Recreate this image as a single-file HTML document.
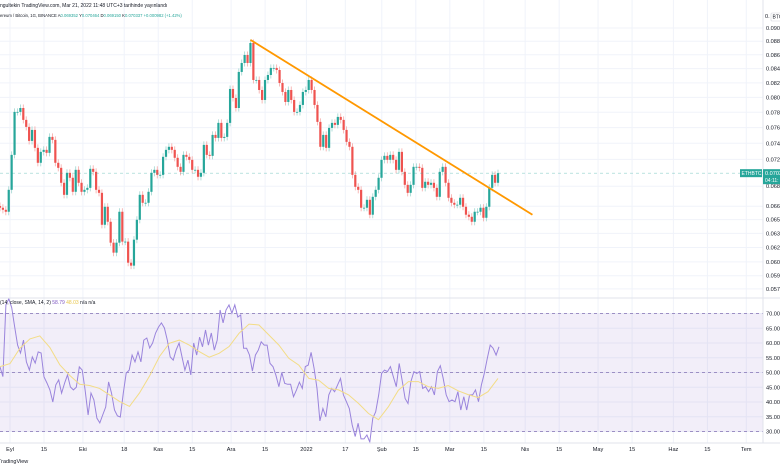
<!DOCTYPE html>
<html><head><meta charset="utf-8">
<style>
body{margin:0;background:#fff;width:780px;height:470px;overflow:hidden;font-family:"Liberation Sans",sans-serif;}
svg{display:block}
text{font-family:"Liberation Sans",sans-serif;}
</style></head>
<body>
<svg id="chart" width="780" height="470" viewBox="0 0 780 470" xmlns="http://www.w3.org/2000/svg">
<g id="grid"></g>
<rect id="band" x="0" y="0" width="763" height="0" fill="#7e57c2" fill-opacity="0.1"/>
<g id="rsiLines"></g>
<g id="candles"></g>
<g id="overlay"></g>
<g id="axes"></g>
<text x="0" y="7" font-size="5" fill="#131722">ngultekin TradingView.com, Mar 21, 2022 11:48 UTC+3 tarihinde yayınlandı</text>
<text x="0" y="17" font-size="4.2" fill="#131722">ereum / Bitcoin, 1G, BINANCE  A<tspan fill="#26a69a">0.069352</tspan> Y<tspan fill="#26a69a">0.070464</tspan> D<tspan fill="#26a69a">0.069150</tspan> K<tspan fill="#26a69a">0.070337</tspan> <tspan fill="#26a69a">+0.000982 (+1.42%)</tspan></text>
<text x="0" y="304" font-size="5" fill="#131722">(14, close, SMA, 14, 2)  <tspan fill="#7e57c2">58.79</tspan>  <tspan fill="#e8c64a">48.03</tspan>  n/a  n/a</text>
<text x="-2" y="463" font-size="5.5" fill="#131722">TradingView</text>
</svg>
<script>
const closes=[0.06633,0.06610,0.06588,0.06838,0.07256,0.07805,0.07805,0.07857,0.07700,0.07609,0.07430,0.07570,0.07343,0.07159,0.07293,0.07318,0.07281,0.07481,0.07443,0.07159,0.07098,0.06920,0.06780,0.07038,0.06979,0.06815,0.07074,0.06920,0.06815,0.06838,0.06861,0.07086,0.07050,0.06838,0.06803,0.06444,0.06644,0.06477,0.06251,0.06146,0.06251,0.06588,0.06262,0.06262,0.06042,0.06012,0.06283,0.06499,0.06780,0.06689,0.06689,0.06815,0.07038,0.07074,0.07014,0.07014,0.07232,0.07318,0.07356,0.07318,0.07220,0.07110,0.07050,0.07256,0.07232,0.07195,0.07074,0.07074,0.06991,0.07038,0.07380,0.07256,0.07244,0.07506,0.07468,0.07661,0.07468,0.07481,0.07661,0.08115,0.07992,0.07857,0.08353,0.08481,0.08597,0.08481,0.08774,0.08240,0.08240,0.08101,0.07965,0.08240,0.08310,0.08410,0.08410,0.08381,0.08198,0.08074,0.07938,0.08101,0.07965,0.07805,0.07805,0.07898,0.08074,0.08101,0.08240,0.08101,0.07898,0.07674,0.07356,0.07506,0.07343,0.07596,0.07661,0.07635,0.07739,0.07700,0.07570,0.07418,0.07356,0.07014,0.06873,0.06838,0.06633,0.06633,0.06723,0.06555,0.06757,0.06838,0.06979,0.07195,0.07244,0.07195,0.07256,0.07195,0.07074,0.07293,0.07050,0.06896,0.06803,0.06896,0.07110,0.07110,0.07098,0.06861,0.06932,0.06896,0.06920,0.06861,0.06757,0.07050,0.07110,0.06920,0.06746,0.06689,0.06667,0.06667,0.06746,0.06644,0.06555,0.06532,0.06477,0.06588,0.06588,0.06633,0.06521,0.06644,0.06861,0.07014,0.06920,0.07034];
const rsi=[51.9,48.6,72.9,75,72,65.4,59.3,56.6,61,53.6,50.8,55.3,53.2,57,56.6,48.5,46.4,44.1,40,45.8,47.5,43,46.4,49.2,45.1,44.1,45,51.9,50.8,44.1,35.6,43,40.7,34.5,32.9,35.6,38.3,46.8,43,37.3,35.3,34.9,43,49.8,50.8,55.9,53.6,57,53.6,61,61.7,58.3,60,63.4,65.4,66.8,65.1,61,55.3,54.2,57.6,60,55.3,50.8,54.2,49.2,60,55.9,62,58.7,64.4,59.3,63.4,57.6,61,71.2,66.8,71.2,72.9,70.1,72.9,68.8,69.5,58.2,58.2,55.9,50.5,55.9,57.6,60.4,59.3,59.3,53.1,52,49.1,45.2,50,46.3,46,46,41.8,44.1,46.7,44.6,52,52.5,56.8,51.4,44.6,33.6,37.8,35,42.4,44.6,43.5,45.8,48,42.4,40.1,37.8,32.2,28.3,32.8,27.5,27.5,28.8,26.4,34.5,36.7,42.4,49.7,50.8,50.3,52,48.6,45.2,53.1,47.4,41.2,39.5,46.9,50.3,49.7,50.3,44.6,45.2,43.5,45.2,42.4,50.3,52.3,48,42.4,40.1,40.7,40.1,43.5,37.3,41.8,37.3,42.4,42.4,44.1,40.1,45.8,49.7,54.8,59.3,58.2,55.9,58.7];
const rsiSma=[52,53,58.2,61.4,62.4,58.5,52.6,49,46,45.6,44.6,42.4,40.2,38.5,43,48.7,55.4,59.9,61,59.3,57.1,55.2,56.5,58.8,63.3,66.4,66.1,62.7,59.3,54.8,52.5,48,47.4,44.6,44.1,42.4,39.5,36.1,34,38.4,44,46.9,46.9,45.2,44.6,45.6,43.8,42.5,41.5,43.5,48];
const priceTicks=[0.0900,0.0880,0.0860,0.0840,0.0820,0.0800,0.0780,0.0760,0.0740,0.0720,0.0688,0.0665,0.0650,0.0635,0.0620,0.0605,0.0591,0.0578];
const rsiTicks=[70,65,60,55,50,45,40,35,30];
const dateLabels=["Eyl","15","Eki","18","Kas","15","Ara","15","2022","17","Şub","15","Mar","15","Nis","15","May","15","Haz","15","Tem"];
const dateDays=[0,14,30,47,61,75,91,105,122,138,153,167,181,195,212,226,242,256,273,287,303];
const trend={startPrice:0.0882,endPrice:0.06555,endDayOffset:14};
const lastPrice=0.07034;

const NS="http://www.w3.org/2000/svg";
const PW=763;
function el(t,a,p){const e=document.createElementNS(NS,t);for(const k in a)e.setAttribute(k,a[k]);p.appendChild(e);return e;}
const yP=p=>28+589*Math.log(0.09/p);
const yR=v=>313.5+(70-v)*2.95;
const xD=d=>10+d*2.43;
const N=closes.length;
const xI=i=>i/(N-1)*498;
const grid=document.getElementById('grid'),axes=document.getElementById('axes');
priceTicks.forEach(p=>{const l=el('line',{x1:0,x2:PW,y1:yP(p),y2:yP(p),stroke:'#f0f3fa','stroke-width':1},grid);
});
rsiTicks.forEach(v=>{const l=el('line',{x1:0,x2:PW,y1:yR(v),y2:yR(v),stroke:'#f0f3fa','stroke-width':1},grid);
});
dateDays.forEach(d=>{const l=el('line',{x1:xD(d),x2:xD(d),y1:0,y2:443,stroke:'#f0f3fa','stroke-width':1},grid);
});
const band=document.getElementById('band');band.setAttribute('y',yR(70));band.setAttribute('height',yR(30)-yR(70));
const rl=document.getElementById('rsiLines');
[70,50,30].forEach(v=>{const l=el('line',{x1:0,x2:PW,y1:yR(v),y2:yR(v),stroke:'#9c8fc4','stroke-width':1,'stroke-dasharray':'3,3'},rl);
});
const cg=document.getElementById('candles');
for(let i=0;i<N;i++){
 const c=closes[i],o=i>0?closes[i-1]:closes[0]*1.003;
 const up=c>=o,col=up?'#26a69a':'#ef5350',wc=up?'#9fd6d0':'#f5a8a6';
 const x=xI(i);const hi=Math.max(o,c)*1.006,lo=Math.min(o,c)*0.994;
 const w=el('line',{x1:x,x2:x,y1:yP(hi),y2:yP(lo),stroke:wc,'stroke-width':0.8},cg);
 
 const yt=yP(Math.max(o,c)),yb=yP(Math.min(o,c));
 const b=el('rect',{x:x-1.1,y:yt,width:2.2,height:Math.max(0.8,yb-yt),fill:col},cg);
 
}
const ov=document.getElementById('overlay');
const cp=el('line',{x1:0,x2:PW,y1:yP(lastPrice),y2:yP(lastPrice),stroke:'#26a69a','stroke-opacity':0.5,'stroke-width':0.7,'stroke-dasharray':'3,3'},ov);

let pk=0;closes.forEach((c,i)=>{if(c>closes[pk])pk=i;});
const tl=el('line',{x1:xI(pk),y1:yP(trend.startPrice),x2:xD(201+trend.endDayOffset),y2:yP(trend.endPrice),stroke:'#ff9800','stroke-width':1.8},ov);

const rp=el('polyline',{points:rsi.map((v,i)=>(i/(rsi.length-1)*499).toFixed(1)+','+yR(v).toFixed(1)).join(' '),fill:'none',stroke:'#9a84dc','stroke-width':1},ov);

const sp=el('polyline',{points:rsiSma.map((v,i)=>(i/(rsiSma.length-1)*498).toFixed(1)+','+yR(v).toFixed(1)).join(' '),fill:'none',stroke:'#f3dc86','stroke-width':1},ov);

[[763,0,763,443],[0,298,780,298],[0,443,780,443]].forEach(a=>{const l=el('line',{x1:a[0],y1:a[1],x2:a[2],y2:a[3],stroke:'#e0e3eb','stroke-width':1},axes);
});
priceTicks.forEach(p=>{const t=el('text',{x:766,y:yP(p)+2,'font-size':5.6,fill:'#131722'},axes);t.textContent=p.toFixed(4);
});
rsiTicks.forEach(v=>{const t=el('text',{x:766,y:yR(v)+2,'font-size':5.6,fill:'#131722'},axes);t.textContent=v.toFixed(2);
});
dateLabels.forEach((s,i)=>{const t=el('text',{x:xD(dateDays[i]),y:451,'font-size':5.6,fill:'#131722','text-anchor':'middle'},axes);t.textContent=s;
});
const yl=yP(lastPrice);
const b1=el('rect',{x:740,y:yl-4,width:22,height:8,fill:'#26a69a'},axes);
const t1=el('text',{x:741.5,y:yl+2,'font-size':5,fill:'#fff'},axes);t1.textContent='ETHBTC';
const b2=el('rect',{x:763,y:yl-4,width:17,height:15,fill:'#26a69a'},axes);
const t2=el('text',{x:765,y:yl+2,'font-size':5.6,fill:'#fff'},axes);t2.textContent='0.0703';
const t3=el('text',{x:765,y:yl+9,'font-size':5,fill:'#fff'},axes);t3.textContent='04:11:';
const t4=el('text',{x:765,y:18,'font-size':5.6,fill:'#131722'},axes);t4.textContent='0.';
const b3=el('rect',{x:771,y:13,width:12,height:8,fill:'#fff',stroke:'#d1d4dc','stroke-width':0.6,rx:1},axes);
const t5=el('text',{x:772.5,y:18.5,'font-size':5,fill:'#131722'},axes);t5.textContent='BTC';
</script>
</body></html>
